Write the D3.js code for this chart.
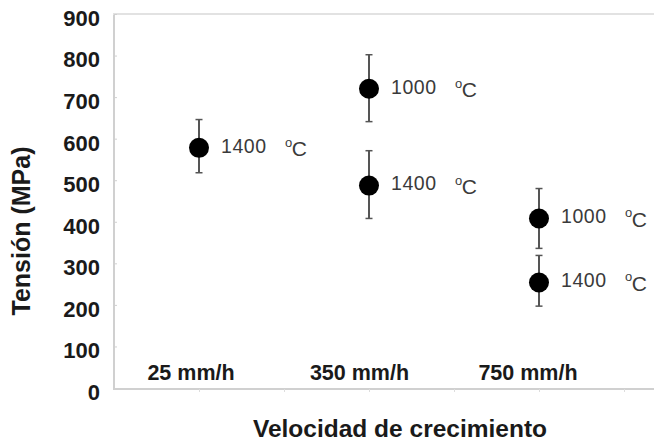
<!DOCTYPE html>
<html>
<head>
<meta charset="utf-8">
<script src="https://cdn.jsdelivr.net/npm/d3@7"></script>
<style>
  html, body { margin: 0; padding: 0; background: #fff; }
  svg { display: block; }
</style>
</head>
<body>
<svg id="chart" width="654" height="447"></svg>
<script>
// ---- data ----
const categories = ["25 mm/h", "350 mm/h", "750 mm/h"];
const categoryPos = [1, 3, 5];
const yTicks = [0, 100, 200, 300, 400, 500, 600, 700, 800, 900];
const xTicks = [1, 2, 3, 4, 5, 6];

const temp1400 = "1400";
const values1400 = [578, 487, 254];
const low1400 = [518, 408, 197];
const high1400 = [646, 571, 319];

const temp1000 = "1000";
const values1000 = [null, 720, 408];
const low1000 = [null, 641, 336];
const high1000 = [null, 802, 480];

const yTitle = "Tensión (MPa)";
const xTitle = "Velocidad de crecimiento";

// ---- layout ----
const svg = d3.select("#chart");
const pLeft = 114, pRight = 654, pTop = 14, pBottom = 388;
const x = d3.scaleLinear().domain([0, 6.353]).range([pLeft, pRight]);
const y = d3.scaleLinear().domain([0, 900]).range([pBottom, pTop]);

const frameColor = "#d0d0d0";
const font = "Liberation Sans, Arial, sans-serif";

// frame: left axis, bottom axis, top border
svg.append("line").attr("x1", pLeft).attr("x2", pLeft).attr("y1", pTop).attr("y2", pBottom + 1)
  .attr("stroke", frameColor).attr("stroke-width", 2);
svg.append("line").attr("x1", pLeft - 1).attr("x2", pRight).attr("y1", pBottom + 1).attr("y2", pBottom + 1)
  .attr("stroke", frameColor).attr("stroke-width", 2);
svg.append("line").attr("x1", pLeft - 1).attr("x2", pRight).attr("y1", pTop).attr("y2", pTop)
  .attr("stroke", "#e2e2e2").attr("stroke-width", 2);

// y axis ticks + labels
const yAxis = d3.axisLeft(y).tickValues(yTicks).tickSize(-3).tickPadding(14);
const gy = svg.append("g").attr("transform", `translate(${pLeft},0)`).call(yAxis);
gy.select(".domain").remove();
gy.selectAll(".tick line").attr("stroke", frameColor).attr("stroke-width", 1);
gy.selectAll(".tick text")
  .attr("fill", "#1a1a1a")
  .attr("dy", "0.72em")
  .attr("y", -4.5)
  .style("font-family", font)
  .style("font-weight", "bold")
  .style("font-size", "22px");

// x axis faint ticks
const xAxis = d3.axisBottom(x).tickValues(xTicks).tickSize(3).tickFormat("");
const gx = svg.append("g").attr("transform", `translate(0,${pBottom + 1})`).call(xAxis);
gx.select(".domain").remove();
gx.selectAll(".tick line").attr("stroke", "#dddddd").attr("stroke-width", 1);

// category labels
svg.append("g").selectAll("text").data(categories).join("text")
  .attr("x", (d, i) => x(categoryPos[i]) - 8 - i * 1.5)
  .attr("y", 380)
  .attr("text-anchor", "middle")
  .attr("fill", "#1a1a1a")
  .style("font-family", font)
  .style("font-weight", "bold")
  .style("font-size", "21.5px")
  .text(d => d);

// axis titles
svg.append("text")
  .attr("x", 400).attr("y", 437)
  .attr("text-anchor", "middle")
  .attr("fill", "#1a1a1a")
  .style("font-family", font)
  .style("font-weight", "bold")
  .style("font-size", "24.5px")
  .text(xTitle);

svg.append("text")
  .attr("transform", "translate(30,231) rotate(-90)")
  .attr("text-anchor", "middle")
  .attr("fill", "#1a1a1a")
  .style("font-family", font)
  .style("font-weight", "bold")
  .style("font-size", "25px")
  .text(yTitle);

// series drawing
function drawSeries(vals, lows, highs, label) {
  const pts = categoryPos.map((p, i) => ({ p, v: vals[i], lo: lows[i], hi: highs[i] }))
    .filter(d => d.v !== null);
  const g = svg.append("g");
  g.selectAll("line.err").data(pts).join("line").attr("class", "err")
    .attr("x1", d => x(d.p)).attr("x2", d => x(d.p))
    .attr("y1", d => y(d.lo)).attr("y2", d => y(d.hi))
    .attr("stroke", "#555").attr("stroke-width", 2);
  g.selectAll("line.caplo").data(pts).join("line").attr("class", "caplo")
    .attr("x1", d => x(d.p) - 3.5).attr("x2", d => x(d.p) + 3.5)
    .attr("y1", d => y(d.lo)).attr("y2", d => y(d.lo))
    .attr("stroke", "#555").attr("stroke-width", 1.5);
  g.selectAll("line.caphi").data(pts).join("line").attr("class", "caphi")
    .attr("x1", d => x(d.p) - 3.5).attr("x2", d => x(d.p) + 3.5)
    .attr("y1", d => y(d.hi)).attr("y2", d => y(d.hi))
    .attr("stroke", "#555").attr("stroke-width", 1.5);
  g.selectAll("circle").data(pts).join("circle")
    .attr("cx", d => x(d.p)).attr("cy", d => y(d.v)).attr("r", 10)
    .attr("fill", "#000");
  const t = g.selectAll("text.lab").data(pts).join("text").attr("class", "lab")
    .attr("y", d => y(d.v) - 2)
    .attr("dy", "0.35em")
    .attr("fill", "#3a3a3a")
    .style("font-family", font)
    .style("font-size", "19.5px")
    .style("letter-spacing", "0.6px");
  t.append("tspan").attr("x", d => x(d.p) + 22).text(label);
  t.append("tspan").attr("x", d => x(d.p) + 86).attr("dy", "-0.45em")
    .style("font-size", "13px").text("o");
  t.append("tspan").attr("dy", "0.45em").attr("dx", "-1").style("font-size", "21px").text("C");
}

drawSeries(values1400, low1400, high1400, temp1400);
drawSeries(values1000, low1000, high1000, temp1000);
</script>
</body>
</html>
